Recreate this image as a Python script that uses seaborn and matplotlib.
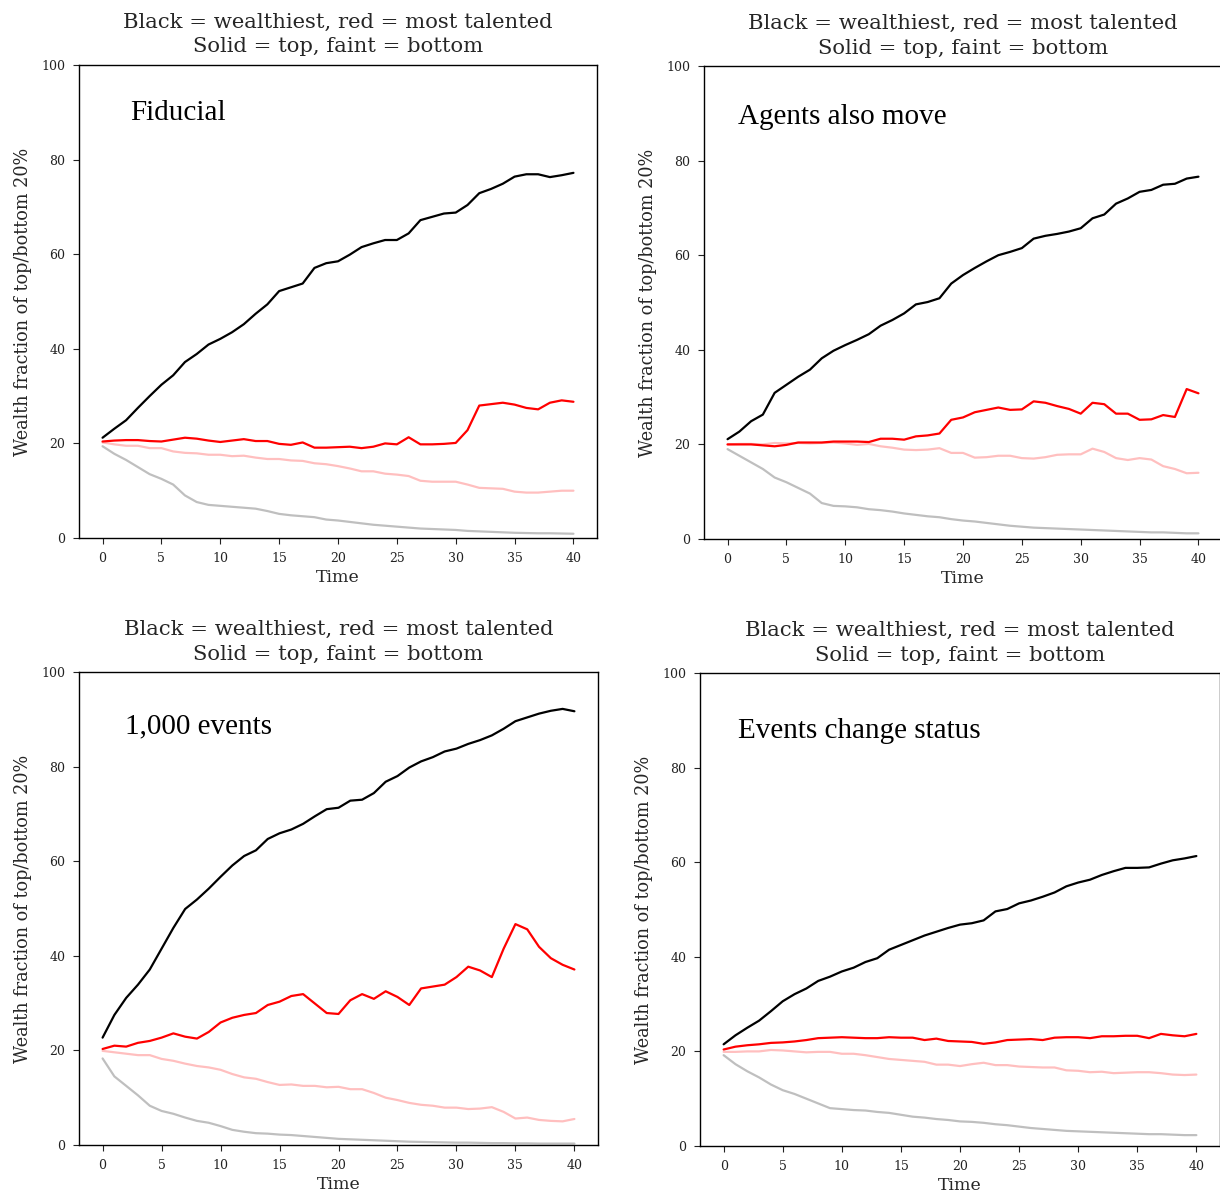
import numpy as np
import pandas as pd
import matplotlib
matplotlib.use("Agg")
import matplotlib.pyplot as plt
import seaborn as sns

time = list(range(0, 41))

# Panel 1: Fiducial
fid_rich_top = [21.2, 23.1, 24.9, 27.5, 30.0, 32.4, 34.4, 37.2, 38.9, 40.9, 42.1, 43.5, 45.2, 47.4, 49.4,
                52.2, 53.0, 53.8, 57.1, 58.1, 58.5, 59.9, 61.5, 62.3, 63.0, 63.0, 64.4, 67.2, 67.9, 68.6,
                68.8, 70.4, 72.9, 73.8, 74.9, 76.4, 76.9, 76.9, 76.3, 76.7, 77.2]
fid_tal_top = [20.4, 20.6, 20.7, 20.7, 20.5, 20.4, 20.8, 21.2, 21.0, 20.6, 20.3, 20.6, 20.9, 20.5, 20.5,
               19.9, 19.7, 20.2, 19.1, 19.1, 19.2, 19.3, 19.0, 19.3, 20.0, 19.8, 21.3, 19.8, 19.8, 19.9,
               20.1, 22.8, 28.0, 28.3, 28.6, 28.2, 27.5, 27.2, 28.6, 29.1, 28.8]
fid_tal_bot = [20.2, 19.8, 19.5, 19.5, 19.0, 19.0, 18.3, 18.0, 17.9, 17.6, 17.6, 17.3, 17.4, 17.0, 16.7,
               16.7, 16.4, 16.3, 15.8, 15.6, 15.2, 14.7, 14.1, 14.1, 13.6, 13.4, 13.1, 12.1, 11.9, 11.9,
               11.9, 11.3, 10.6, 10.5, 10.4, 9.8, 9.6, 9.6, 9.8, 10.0, 10.0]
fid_rich_bot = [19.4, 17.8, 16.5, 15.0, 13.5, 12.5, 11.3, 9.0, 7.6, 7.0, 6.8, 6.6, 6.4, 6.2, 5.7,
                5.1, 4.8, 4.6, 4.4, 3.9, 3.7, 3.4, 3.1, 2.8, 2.6, 2.4, 2.2, 2.0, 1.9, 1.8,
                1.7, 1.5, 1.4, 1.3, 1.2, 1.1, 1.05, 1.0, 1.0, 0.95, 0.9]

# Panel 2: Agents also move
mov_rich_top = [21.1, 22.7, 24.9, 26.3, 30.9, 32.6, 34.3, 35.8, 38.2, 39.8, 41.0, 42.1, 43.3, 45.1, 46.3,
                47.7, 49.6, 50.1, 50.9, 54.0, 55.8, 57.3, 58.7, 60.0, 60.7, 61.5, 63.5, 64.1, 64.5, 65.0,
                65.7, 67.8, 68.6, 70.9, 72.0, 73.4, 73.8, 74.9, 75.1, 76.2, 76.6]
mov_tal_top = [20.0, 20.0, 20.0, 19.8, 19.6, 19.9, 20.4, 20.4, 20.4, 20.6, 20.6, 20.6, 20.5, 21.2, 21.2,
               21.0, 21.7, 21.9, 22.3, 25.2, 25.7, 26.8, 27.3, 27.8, 27.3, 27.4, 29.1, 28.8, 28.1, 27.5,
               26.5, 28.8, 28.5, 26.5, 26.5, 25.2, 25.3, 26.2, 25.8, 31.7, 30.8]
mov_tal_bot = [20.0, 20.1, 20.1, 20.0, 20.3, 20.2, 20.3, 20.2, 20.3, 20.4, 20.2, 19.9, 20.1, 19.6, 19.3,
               18.9, 18.8, 18.9, 19.2, 18.2, 18.2, 17.2, 17.3, 17.6, 17.6, 17.1, 17.0, 17.3, 17.8, 17.9,
               17.9, 19.1, 18.4, 17.1, 16.7, 17.1, 16.8, 15.4, 14.8, 13.9, 14.0]
mov_rich_bot = [19.0, 17.6, 16.2, 14.8, 13.0, 12.0, 10.8, 9.6, 7.6, 7.0, 6.9, 6.7, 6.3, 6.1, 5.8,
                5.4, 5.1, 4.8, 4.6, 4.2, 3.9, 3.7, 3.4, 3.1, 2.8, 2.6, 2.4, 2.3, 2.2, 2.1,
                2.0, 1.9, 1.8, 1.7, 1.6, 1.5, 1.4, 1.4, 1.3, 1.2, 1.2]

# Panel 3: 1,000 events
ev_rich_top = [22.7, 27.5, 31.1, 33.9, 37.1, 41.5, 45.9, 49.9, 51.9, 54.2, 56.7, 59.1, 61.1, 62.3, 64.7,
               65.9, 66.7, 67.9, 69.5, 71.0, 71.3, 72.8, 73.0, 74.4, 76.8, 78.0, 79.8, 81.1, 82.0, 83.2,
               83.8, 84.8, 85.6, 86.6, 88.0, 89.6, 90.4, 91.2, 91.8, 92.2, 91.7]
ev_tal_top = [20.3, 21.0, 20.8, 21.6, 22.0, 22.7, 23.6, 22.9, 22.5, 23.9, 25.9, 26.9, 27.5, 27.9, 29.6,
              30.3, 31.5, 31.9, 29.9, 27.9, 27.7, 30.6, 31.9, 30.9, 32.5, 31.3, 29.6, 33.1, 33.5, 33.9,
              35.5, 37.7, 36.9, 35.5, 41.5, 46.7, 45.6, 41.9, 39.5, 38.1, 37.1]
ev_tal_bot = [19.9, 19.6, 19.3, 19.0, 19.0, 18.2, 17.8, 17.2, 16.7, 16.4, 15.9, 15.0, 14.3, 14.0, 13.3,
              12.7, 12.8, 12.5, 12.5, 12.2, 12.3, 11.8, 11.8, 11.0, 10.0, 9.5, 8.9, 8.5, 8.3, 7.9,
              7.9, 7.6, 7.7, 8.0, 7.0, 5.6, 5.8, 5.3, 5.1, 5.0, 5.5]
ev_rich_bot = [18.3, 14.5, 12.5, 10.5, 8.3, 7.2, 6.6, 5.8, 5.1, 4.7, 4.0, 3.2, 2.8, 2.5, 2.4,
               2.2, 2.1, 1.9, 1.7, 1.5, 1.3, 1.2, 1.1, 1.0, 0.9, 0.8, 0.7, 0.65, 0.6, 0.55,
               0.5, 0.5, 0.45, 0.4, 0.4, 0.35, 0.35, 0.3, 0.3, 0.3, 0.3]

# Panel 4: Events change status
st_rich_top = [21.5, 23.4, 25.0, 26.5, 28.5, 30.6, 32.1, 33.3, 34.9, 35.8, 36.9, 37.7, 38.9, 39.7, 41.5,
               42.5, 43.5, 44.5, 45.3, 46.1, 46.8, 47.1, 47.7, 49.6, 50.1, 51.3, 51.9, 52.7, 53.6, 54.9,
               55.7, 56.3, 57.3, 58.1, 58.8, 58.8, 58.9, 59.7, 60.4, 60.8, 61.3]
st_tal_top = [20.4, 21.0, 21.3, 21.5, 21.8, 21.9, 22.1, 22.4, 22.8, 22.9, 23.0, 22.9, 22.8, 22.8, 23.0,
              22.9, 22.9, 22.4, 22.7, 22.2, 22.1, 22.0, 21.6, 21.9, 22.4, 22.5, 22.6, 22.4, 22.9, 23.0,
              23.0, 22.8, 23.2, 23.2, 23.3, 23.3, 22.8, 23.7, 23.4, 23.2, 23.7]
st_tal_bot = [19.9, 19.9, 20.0, 20.0, 20.3, 20.2, 20.0, 19.8, 19.9, 19.9, 19.5, 19.5, 19.2, 18.8, 18.4,
              18.2, 18.0, 17.8, 17.2, 17.2, 16.9, 17.3, 17.6, 17.1, 17.1, 16.8, 16.7, 16.6, 16.6, 16.0,
              15.9, 15.6, 15.7, 15.4, 15.5, 15.6, 15.6, 15.4, 15.1, 15.0, 15.1]
st_rich_bot = [19.2, 17.3, 15.8, 14.5, 13.0, 11.8, 11.0, 10.0, 9.0, 8.0, 7.8, 7.6, 7.5, 7.2, 7.0,
               6.6, 6.2, 6.0, 5.7, 5.5, 5.2, 5.1, 4.9, 4.6, 4.4, 4.1, 3.8, 3.6, 3.4, 3.2,
               3.1, 3.0, 2.9, 2.8, 2.7, 2.6, 2.5, 2.5, 2.4, 2.3, 2.3]

panel_labels = ["Fiducial", "Agents also move", "1,000 events", "Events change status"]
panel_data = [
    (fid_rich_top, fid_tal_top, fid_tal_bot, fid_rich_bot),
    (mov_rich_top, mov_tal_top, mov_tal_bot, mov_rich_bot),
    (ev_rich_top, ev_tal_top, ev_tal_bot, ev_rich_bot),
    (st_rich_top, st_tal_top, st_tal_bot, st_rich_bot),
]
title_text = "Black = wealthiest, red = most talented\nSolid = top, faint = bottom"
ylabel_text = "Wealth fraction of top/bottom 20%"
xlabel_text = "Time"
yticks = [0, 20, 40, 60, 80, 100]
xticks = [0, 5, 10, 15, 20, 25, 30, 35, 40]

sns.set_style("ticks")
plt.rcParams["font.family"] = ["DejaVu Serif"]

fig = plt.figure(figsize=(12.2, 11.94), dpi=100)
W, H = 1220.0, 1194.0
# axes rectangles in pixels: (left, top, right, bottom)
rects = [(79, 65, 597, 538), (704, 66, 1222, 539), (79, 672, 598, 1145), (700, 673, 1220, 1146)]
label_pos = [(0.098, 0.884), (0.066, 0.877), (0.088, 0.871), (0.073, 0.862)]

line_styles = [
    dict(color="black", alpha=1.0),
    dict(color="red", alpha=1.0),
    dict(color="red", alpha=0.25),
    dict(color="black", alpha=0.25),
]

for i, (rect, series) in enumerate(zip(rects, panel_data)):
    l, t, r, b = rect
    ax = fig.add_axes([l / W, 1 - b / H, (r - l) / W, (b - t) / H])
    df = pd.DataFrame({"time": time, "rt": series[0], "tt": series[1], "tb": series[2], "rb": series[3]})
    order = ["rb", "tb", "tt", "rt"]
    sty = {"rt": line_styles[0], "tt": line_styles[1], "tb": line_styles[2], "rb": line_styles[3]}
    for key in order:
        sns.lineplot(data=df, x="time", y=key, ax=ax, linewidth=1.6, **sty[key])
    ax.set_xlim(-2, 42)
    ax.set_ylim(0, 100)
    ax.set_xticks(xticks)
    ax.set_yticks(yticks)
    ax.tick_params(labelsize=9, length=4.3, width=0.8, pad=5.5, colors="#222222")
    ax.set_xlabel(xlabel_text, fontsize=12.5, labelpad=3)
    ax.set_ylabel(ylabel_text, fontsize=12.7, labelpad=7)
    ax.set_title(title_text, fontsize=15.2, pad=9, linespacing=1.35)
    for sp in ax.spines.values():
        sp.set_visible(True)
        sp.set_color("black")
        sp.set_linewidth(1.0)
    ax.text(label_pos[i][0], label_pos[i][1], panel_labels[i], transform=ax.transAxes,
            fontsize=21, family=["Liberation Serif"], ha="left", va="baseline", color="black")

fig.savefig("out.png", dpi=100)
